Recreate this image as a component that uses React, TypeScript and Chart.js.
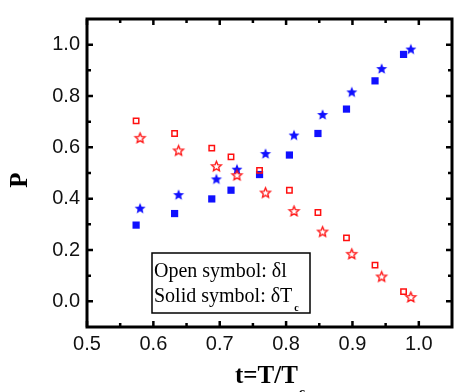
import { useEffect, useRef } from 'react';
import { Chart, registerables } from 'chart.js';

Chart.register(...registerables);

// ---- data ----
const tSquares = [0.574, 0.632, 0.688, 0.717, 0.760, 0.805, 0.848, 0.891, 0.934, 0.977];
const tStars = [0.580, 0.638, 0.695, 0.726, 0.769, 0.812, 0.855, 0.899, 0.944, 0.988];
const pOpenSquare = [0.703, 0.654, 0.597, 0.563, 0.510, 0.433, 0.346, 0.247, 0.141, 0.038];
const pOpenStar = [0.635, 0.586, 0.525, 0.490, 0.422, 0.350, 0.270, 0.183, 0.095, 0.015];
const pSolidSquare = [0.297, 0.342, 0.399, 0.433, 0.494, 0.570, 0.654, 0.749, 0.859, 0.962];
const pSolidStar = [0.361, 0.414, 0.475, 0.513, 0.574, 0.646, 0.726, 0.814, 0.905, 0.981];

const xTickValues = [0.5, 0.6, 0.7, 0.8, 0.9, 1.0];
const xMinorValues = [0.55, 0.65, 0.75, 0.85, 0.95];
const yTickValues = [0.0, 0.2, 0.4, 0.6, 0.8, 1.0];
const yMinorValues = [0.1, 0.3, 0.5, 0.7, 0.9];

const RED = '#ff1010';
const BLUE = '#1010ff';

function makeStar(fill: string | null, stroke: string | null, R: number, ratio: number, lw: number) {
  const size = Math.ceil(R * 2 + 4);
  const c = document.createElement('canvas');
  c.width = size;
  c.height = size;
  const g = c.getContext('2d')!;
  const cx = size / 2;
  const cy = size / 2;
  g.beginPath();
  for (let i = 0; i < 10; i++) {
    const r = i % 2 === 0 ? R : R * ratio;
    const a = -Math.PI / 2 + (i * Math.PI) / 5;
    const px = cx + r * Math.cos(a);
    const py = cy + r * Math.sin(a);
    if (i === 0) g.moveTo(px, py);
    else g.lineTo(px, py);
  }
  g.closePath();
  if (fill) {
    g.fillStyle = fill;
    g.fill();
  }
  if (stroke) {
    g.strokeStyle = stroke;
    g.lineWidth = lw;
    g.stroke();
  }
  return c;
}

const framePlugin = {
  id: 'frameAndText',
  afterDraw(chart: any) {
    const { ctx, chartArea, scales } = chart;
    const { left, right, top, bottom } = chartArea;
    const x = scales.x;
    const y = scales.y;
    ctx.save();
    ctx.strokeStyle = '#000';
    ctx.lineWidth = 2.5;
    ctx.beginPath();
    const tick = (vals: number[], len: number) => {
      vals.forEach((v) => {
        const px = x.getPixelForValue(v);
        ctx.moveTo(px, bottom);
        ctx.lineTo(px, bottom - len);
        ctx.moveTo(px, top);
        ctx.lineTo(px, top + len);
      });
    };
    const ytick = (vals: number[], len: number) => {
      vals.forEach((v) => {
        const py = y.getPixelForValue(v);
        ctx.moveTo(left, py);
        ctx.lineTo(left + len, py);
        ctx.moveTo(right, py);
        ctx.lineTo(right - len, py);
      });
    };
    tick(xTickValues, 6);
    tick(xMinorValues, 4);
    ytick(yTickValues, 6);
    ytick(yMinorValues, 4);
    ctx.stroke();
    ctx.lineWidth = 3;
    ctx.strokeRect(left, top, right - left, bottom - top);

    // axis titles
    ctx.fillStyle = '#000';
    ctx.font = 'bold 25px "Liberation Serif", "Times New Roman", serif';
    ctx.textAlign = 'left';
    ctx.textBaseline = 'alphabetic';
    const xt = 't=T/T';
    ctx.fillText(xt, 235, 383);
    const w = ctx.measureText(xt).width;
    ctx.font = 'bold 14px "Liberation Serif", serif';
    ctx.fillText('c', 235 + w + 1, 397);

    ctx.save();
    ctx.translate(21, 180);
    ctx.rotate(-Math.PI / 2);
    ctx.font = 'bold 25px "Liberation Serif", serif';
    ctx.textAlign = 'center';
    ctx.textBaseline = 'middle';
    ctx.fillText('P', 0, 0);
    ctx.restore();

    // legend box
    ctx.lineWidth = 1.5;
    ctx.strokeRect(152, 253, 158, 60);
    ctx.font = '20px "Liberation Serif", "Times New Roman", serif';
    ctx.textAlign = 'left';
    ctx.textBaseline = 'alphabetic';
    ctx.fillText('Open symbol: δl', 154, 277);
    const l2 = 'Solid symbol: δT';
    ctx.fillText(l2, 154, 302);
    const w2 = ctx.measureText(l2).width;
    ctx.font = 'bold 10px "Liberation Serif", serif';
    ctx.fillText('c', 154 + w2 + 2, 311);
    ctx.restore();
  },
};

export default function App() {
  const ref = useRef<HTMLCanvasElement | null>(null);
  useEffect(() => {
    if (!ref.current) return;
    const openStar = makeStar(null, RED, 5.2, 0.45, 1.3);
    const solidStar = makeStar(BLUE, null, 5.8, 0.45, 1);
    const toPts = (xs: number[], ys: number[]) => xs.map((v, i) => ({ x: v, y: ys[i] }));
    const chart = new Chart(ref.current, {
      type: 'scatter',
      data: {
        datasets: [
          {
            label: 'open square δl',
            data: toPts(tSquares, pOpenSquare),
            pointStyle: 'rect',
            pointRadius: 3.8,
            borderWidth: 1.5,
            borderColor: RED,
            backgroundColor: 'rgba(255,255,255,0)',
          },
          {
            label: 'open star δl',
            data: toPts(tStars, pOpenStar),
            pointStyle: openStar as any,
            pointRadius: 5,
            borderColor: RED,
            backgroundColor: RED,
          },
          {
            label: 'solid square δTc',
            data: toPts(tSquares, pSolidSquare),
            pointStyle: 'rect',
            pointRadius: 5.1,
            borderWidth: 0,
            borderColor: BLUE,
            backgroundColor: BLUE,
          },
          {
            label: 'solid star δTc',
            data: toPts(tStars, pSolidStar),
            pointStyle: solidStar as any,
            pointRadius: 6,
            borderColor: BLUE,
            backgroundColor: BLUE,
          },
        ],
      },
      options: {
        responsive: false,
        animation: false,
        devicePixelRatio: 1,
        layout: { padding: { top: 13, right: 1, left: 0, bottom: 0 } },
        plugins: { legend: { display: false }, tooltip: { enabled: false }, title: { display: false } },
        scales: {
          x: {
            type: 'linear',
            min: 0.5,
            max: 1.05,
            afterBuildTicks: (s: any) => {
              s.ticks = xTickValues.map((v) => ({ value: v }));
            },
            afterFit: (s: any) => {
              s.height = 65;
            },
            grid: { display: false, drawTicks: false },
            border: { display: false },
            ticks: {
              padding: 5,
              color: '#111',
              font: { family: '"Liberation Sans", Arial, sans-serif', size: 20 },
              callback: (v: any) => Number(v).toFixed(1),
              maxRotation: 0,
              autoSkip: false,
            },
          },
          y: {
            type: 'linear',
            min: -0.1,
            max: 1.1,
            afterBuildTicks: (s: any) => {
              s.ticks = yTickValues.map((v) => ({ value: v }));
            },
            afterFit: (s: any) => {
              s.width = 87;
            },
            grid: { display: false, drawTicks: false },
            border: { display: false },
            ticks: {
              padding: 7,
              color: '#111',
              font: { family: '"Liberation Sans", Arial, sans-serif', size: 20 },
              callback: (v: any) => Number(v).toFixed(1),
              autoSkip: false,
            },
          },
        },
      },
      plugins: [framePlugin],
    });
    return () => chart.destroy();
  }, []);
  return (
    <div style={{ position: 'fixed', left: 0, top: 0, width: 459, height: 392, background: '#fff' }}>
      <canvas ref={ref} width={459} height={392} style={{ display: 'block' }} />
    </div>
  );
}
